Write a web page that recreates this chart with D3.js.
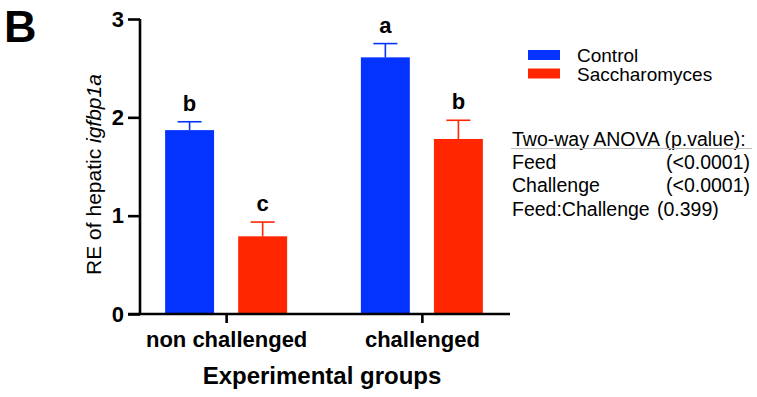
<!DOCTYPE html>
<html>
<head>
<meta charset="utf-8">
<script src="https://cdn.jsdelivr.net/npm/d3@7"></script>
<style>
  body { margin: 0; background: #fff; }
  svg { font-family: "Liberation Sans", Arial, Helvetica, sans-serif; }
</style>
</head>
<body>
<div id="viz"></div>
<script>
var groups = ["non challenged", "challenged"];
var feeds = ["Control", "Saccharomyces"];
var means = [[1.87, 0.79], [2.61, 1.78]];
var errs = [[0.085, 0.145], [0.14, 0.19]];
var letters = [["b", "c"], ["a", "b"]];
var yTicks = [0, 1, 2, 3];
var anovaTerms = ["Feed", "Challenge", "Feed:Challenge"];
var anovaP = ["(<0.0001)", "(<0.0001)", "(0.399)"];

var W = 757, H = 397,
    margin = { left: 140, right: 508, top: 19, bottom: 314 },
    blue = "#0433FF", red = "#FF2600";
var colors = [blue, red];

var svg = d3.select("#viz").append("svg")
    .attr("width", W).attr("height", H);

var x = d3.scalePoint().domain(groups).range([margin.left, margin.right]).padding(0.44);
var xs = d3.scaleBand().domain(feeds).range([-61, 61]).paddingInner(0.33);
var y = d3.scaleLinear().domain([0, 3]).range([margin.bottom, margin.top]);

var data = [];
groups.forEach(function(g, i) {
  feeds.forEach(function(f, j) {
    data.push({ group: g, feed: f, mean: means[i][j], err: errs[i][j], letter: letters[i][j], color: colors[j] });
  });
});

function cx(d) { return x(d.group) + xs(d.feed) + xs.bandwidth() / 2; }

// bars
svg.selectAll("rect.bar").data(data).enter()
  .append("rect")
  .attr("class", "bar")
  .attr("x", function(d) { return x(d.group) + xs(d.feed); })
  .attr("y", function(d) { return y(d.mean); })
  .attr("width", xs.bandwidth())
  .attr("height", function(d) { return y(0) - y(d.mean); })
  .attr("fill", function(d) { return d.color; });

// error bars (upper only)
var eb = svg.selectAll("g.err").data(data).enter().append("g").attr("class", "err")
  .attr("stroke", function(d) { return d.color; })
  .attr("stroke-width", 1.6);
eb.append("line")
  .attr("x1", cx).attr("x2", cx)
  .attr("y1", function(d) { return y(d.mean); })
  .attr("y2", function(d) { return y(d.mean + d.err); });
eb.append("line")
  .attr("x1", function(d) { return cx(d) - 12; })
  .attr("x2", function(d) { return cx(d) + 12; })
  .attr("y1", function(d) { return y(d.mean + d.err); })
  .attr("y2", function(d) { return y(d.mean + d.err); });

// significance letters
svg.selectAll("text.sig").data(data).enter()
  .append("text")
  .attr("class", "sig")
  .attr("x", cx)
  .attr("y", function(d) { return y(d.mean + d.err) - 11; })
  .attr("text-anchor", "middle")
  .style("font-size", "22px")
  .style("font-weight", "bold")
  .text(function(d) { return d.letter; });

// axes
var yAxis = svg.append("g")
  .attr("transform", "translate(" + margin.left + ",0)")
  .call(d3.axisLeft(y).tickValues(yTicks).tickFormat(d3.format("d")).tickSize(12).tickPadding(4));
var xAxis = svg.append("g")
  .attr("transform", "translate(0," + margin.bottom + ")")
  .call(d3.axisBottom(x).tickSize(9).tickPadding(8).tickSizeOuter(0));

[yAxis, xAxis].forEach(function(a) {
  a.selectAll("path, line").attr("stroke", "#000").attr("stroke-width", 2.6);
  a.selectAll("text")
    .attr("fill", "#000")
    .style("font-family", "'Liberation Sans', Arial, sans-serif")
    .style("font-weight", "bold")
    .style("font-size", "22px");
});
yAxis.select(".domain").attr("d", "M0," + margin.top + "V" + margin.bottom);
xAxis.select(".domain").attr("d", "M" + (margin.left - 12) + ",0H" + (margin.right + 2));

// axis titles
var yl = svg.append("text")
  .attr("transform", "translate(101," + ((margin.top + margin.bottom) / 2 + 8) + ") rotate(-90)")
  .attr("text-anchor", "middle")
  .style("font-size", "21px");
yl.append("tspan").text("RE of hepatic ");
yl.append("tspan").style("font-style", "italic").text("igfbp1a");

svg.append("text")
  .attr("x", (margin.left + margin.right) / 2 - 2)
  .attr("y", 384)
  .attr("text-anchor", "middle")
  .style("font-size", "24px")
  .style("font-weight", "bold")
  .text("Experimental groups");

// panel letter
svg.append("text")
  .attr("x", 4).attr("y", 42)
  .style("font-size", "45px")
  .style("font-weight", "bold")
  .text("B");

// legend
var lg = svg.selectAll("g.leg").data(feeds).enter().append("g").attr("class", "leg")
  .attr("transform", function(d, i) { return "translate(528," + (50 + i * 18.5) + ")"; });
lg.append("rect").attr("width", 32).attr("height", 10)
  .attr("fill", function(d, i) { return colors[i]; });
lg.append("text").attr("x", 49).attr("y", 12)
  .style("font-size", "19px")
  .text(function(d) { return d; });

// ANOVA box
svg.append("text")
  .attr("x", 512).attr("y", 146)
  .style("font-size", "19.5px")
  .text("Two-way ANOVA (p.value):");
svg.append("line")
  .attr("x1", 511).attr("x2", 752)
  .attr("y1", 148.5).attr("y2", 148.5)
  .attr("stroke", "#bbb").attr("stroke-width", 1);
var an = svg.selectAll("g.anova").data(anovaTerms).enter().append("g").attr("class", "anova")
  .attr("transform", function(d, i) { return "translate(512," + (169 + i * 23.3) + ")"; });
an.append("text")
  .style("font-size", "19.5px")
  .text(function(d) { return d; });
an.append("text")
  .attr("x", function(d, i) { return i < 2 ? 154 : 145; })
  .style("font-size", "19.5px")
  .text(function(d, i) { return anovaP[i]; });
</script>
</body>
</html>
